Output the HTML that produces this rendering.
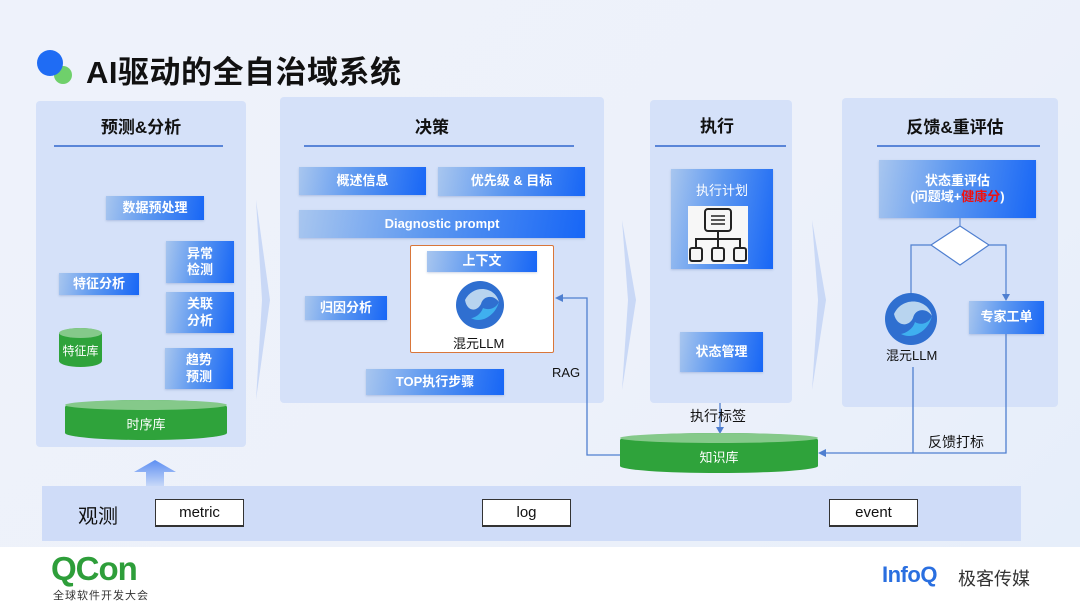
<!DOCTYPE html>
<html><head><meta charset="utf-8"><style>
*{margin:0;padding:0;box-sizing:border-box}
body{width:1080px;height:607px;position:relative;overflow:hidden;background:#fff;font-family:"Liberation Sans","Noto Sans CJK SC",sans-serif}
.bg{position:absolute;left:0;top:0;width:1080px;height:547px;background:linear-gradient(135deg,#eef2fb 0%,#edf1fa 60%,#e6eefa 100%)}
.a{position:absolute}
.panel{position:absolute;background:#d5e1f9;border-radius:4px}
.ttl{position:absolute;font-weight:bold;font-size:17px;color:#111;text-align:center}
.ln{position:absolute;height:1.5px;background:#5a85d8}
.b{position:absolute;background:linear-gradient(100deg,#a8c6ef 0%,#5d98f0 45%,#1766f6 100%);color:#fff;font-weight:bold;font-size:13px;display:flex;align-items:center;justify-content:center;text-align:center;line-height:1.25;box-shadow:0 1px 2px rgba(60,90,160,.25)}
.cyl{position:absolute;background:#2fa33b;color:#fff;font-size:13px;display:flex;align-items:center;justify-content:center}
.cyl::before{content:"";position:absolute;left:0;right:0;top:0;height:10px;border-radius:50%;background:#85c98a}
.cyl span{position:relative;top:3px}
.tb{position:absolute;background:#fff;border:1px solid #333;border-bottom:2px solid #333;font-size:15px;display:flex;align-items:center;justify-content:center;color:#111}
.t{position:absolute;font-size:14px;color:#111;white-space:nowrap}
</style></head><body>
<div class="bg"></div>
<div class="a" style="left:37px;top:50px;width:26px;height:26px;border-radius:50%;background:#1f6cf4;z-index:2"></div>
<div class="a" style="left:54px;top:66px;width:18px;height:18px;border-radius:50%;background:#6fd06b"></div>
<div class="a" style="left:86px;top:47px;font-size:31px;font-weight:bold;color:#111;letter-spacing:0.5px">AI驱动的全自治域系统</div>

<svg class="a" style="left:0;top:0" width="1080" height="547">
<polygon points="256,200 270,300 256,400 262,300" fill="#c9d8f6"/>
<polygon points="622,220 636,300 622,390 628,300" fill="#c9d8f6"/>
<polygon points="812,220 826,300 812,390 818,300" fill="#c9d8f6"/>
</svg>

<!-- P1 -->
<div class="panel" style="left:36px;top:101px;width:210px;height:346px"></div>
<div class="ttl" style="left:36px;top:113px;width:210px">预测&amp;分析</div>
<div class="ln" style="left:54px;top:145px;width:169px"></div>
<div class="b" style="left:106px;top:196px;width:98px;height:24px">数据预处理</div>
<div class="b" style="left:59px;top:273px;width:80px;height:22px">特征分析</div>
<div class="b" style="left:166px;top:241px;width:68px;height:42px">异常<br>检测</div>
<div class="b" style="left:166px;top:292px;width:68px;height:41px">关联<br>分析</div>
<div class="b" style="left:165px;top:348px;width:68px;height:41px">趋势<br>预测</div>
<div class="cyl" style="left:59px;top:328px;width:43px;height:39px;border-radius:50%/6px;font-size:12px"><span>特征库</span></div>
<div class="cyl" style="left:65px;top:400px;width:162px;height:40px;border-radius:50%/7px"><span>时序库</span></div>
<svg class="a" style="left:130px;top:458px" width="50" height="28"><defs><linearGradient id="ua" x1="0" y1="0" x2="0" y2="1"><stop offset="0" stop-color="#5d8ff2"/><stop offset="1" stop-color="#c7d8f8"/></linearGradient></defs><polygon points="25,2 46,14 34,14 34,28 16,28 16,14 4,14" fill="url(#ua)"/></svg>

<!-- P2 -->
<div class="panel" style="left:280px;top:97px;width:324px;height:306px"></div>
<div class="ttl" style="left:280px;top:113px;width:304px">决策</div>
<div class="ln" style="left:304px;top:145px;width:270px"></div>
<div class="b" style="left:299px;top:167px;width:127px;height:28px">概述信息</div>
<div class="b" style="left:438px;top:167px;width:147px;height:29px">优先级 &amp; 目标</div>
<div class="b" style="left:299px;top:210px;width:286px;height:28px">Diagnostic prompt</div>
<div class="a" style="left:410px;top:245px;width:144px;height:108px;background:#fff;border:1.5px solid #d9763a;border-radius:2px"></div>
<div class="b" style="left:427px;top:251px;width:110px;height:21px">上下文</div>
<svg class="a" style="left:455px;top:280px" width="50" height="50"><circle cx="25" cy="25" r="24" fill="#2f6fd0"/><path d="M10,20 C18,4 40,6 44,22 C38,14 28,16 26,24 C22,32 12,32 10,20Z" fill="#b8d4ef"/><path d="M16,38 C26,44 40,36 44,22 C40,30 32,30 28,28 C26,34 20,38 16,38Z" fill="#3fb0ef"/></svg>
<div class="t" style="left:453px;top:333px;font-size:13px">混元LLM</div>
<div class="b" style="left:305px;top:296px;width:82px;height:24px">归因分析</div>
<div class="b" style="left:366px;top:369px;width:138px;height:26px">TOP执行步骤</div>
<div class="t" style="left:552px;top:365px;font-size:13px">RAG</div>

<!-- P3 -->
<div class="panel" style="left:650px;top:100px;width:142px;height:303px"></div>
<div class="ttl" style="left:650px;top:112px;width:134px">执行</div>
<div class="ln" style="left:655px;top:145px;width:131px"></div>
<div class="b" style="left:671px;top:169px;width:102px;height:100px;align-items:flex-start;padding-top:14px;font-weight:normal;font-size:13px">执行计划</div>
<svg class="a" style="left:688px;top:206px" width="60" height="58"><rect width="60" height="58" fill="#f7f7f7"/><rect x="17" y="3" width="26" height="22" rx="3" fill="none" stroke="#222" stroke-width="2"/><line x1="23" y1="10" x2="37" y2="10" stroke="#222" stroke-width="1.5"/><line x1="23" y1="14" x2="37" y2="14" stroke="#222" stroke-width="1.5"/><line x1="23" y1="18" x2="37" y2="18" stroke="#222" stroke-width="1.5"/><path d="M30,25 V33 M8,42 V33 H52 V42 M30,33 V42" fill="none" stroke="#222" stroke-width="2"/><rect x="2" y="42" width="12" height="13" rx="2" fill="none" stroke="#222" stroke-width="2"/><rect x="24" y="42" width="12" height="13" rx="2" fill="none" stroke="#222" stroke-width="2"/><rect x="46" y="42" width="12" height="13" rx="2" fill="none" stroke="#222" stroke-width="2"/></svg>
<div class="b" style="left:680px;top:332px;width:83px;height:40px">状态管理</div>

<!-- P4 -->
<div class="panel" style="left:842px;top:98px;width:216px;height:309px"></div>
<div class="ttl" style="left:842px;top:113px;width:226px">反馈&amp;重评估</div>
<div class="ln" style="left:877px;top:145px;width:163px"></div>
<div class="b" style="left:879px;top:160px;width:157px;height:58px"><div>状态重评估<br>(问题域+<span style="color:#f01010">健康分</span>)</div></div>
<svg class="a" style="left:842px;top:218px" width="216" height="240">
<polygon points="118,8 147,27 118,47 89,27" fill="#fff" stroke="#4f7fd0" stroke-width="1.2"/>
<line x1="118" y1="0" x2="118" y2="8" stroke="#4f7fd0"/>
<path d="M89,27 H69 V90" fill="none" stroke="#4f7fd0" stroke-width="1.2"/><polygon points="65,88 73,88 69,95" fill="#4f7fd0"/>
<path d="M147,27 H164 V77" fill="none" stroke="#4f7fd0" stroke-width="1.2"/><polygon points="160,76 168,76 164,83" fill="#4f7fd0"/>
</svg>
<svg class="a" style="left:884px;top:292px" width="54" height="54"><circle cx="27" cy="27" r="26" fill="#2f6fd0"/><path d="M10,22 C18,4 44,6 48,24 C42,15 31,17 29,26 C25,35 13,35 10,22Z" fill="#b8d4ef"/><path d="M17,42 C28,48 44,40 48,24 C44,33 35,33 31,30 C29,37 22,41 17,42Z" fill="#3fb0ef"/></svg>
<div class="t" style="left:886px;top:345px;font-size:13px">混元LLM</div>
<div class="b" style="left:969px;top:301px;width:75px;height:33px">专家工单</div>

<svg class="a" style="left:0;top:0" width="1080" height="547">
<g stroke="#4f7fd0" stroke-width="1.3" fill="none">
<path d="M620,455 H587 V298 H560"/>
<path d="M720,403 V430"/>
<path d="M913,367 V453 M1006,334 V453 H824"/>
</g>
<polygon points="555,298 563,294 563,302" fill="#4f7fd0"/>
<polygon points="716,427 724,427 720,434" fill="#4f7fd0"/>
<polygon points="818,453 826,449 826,457" fill="#4f7fd0"/>
</svg>
<div class="t" style="left:690px;top:406px">执行标签</div>
<div class="t" style="left:928px;top:432px">反馈打标</div>
<div class="cyl" style="left:620px;top:433px;width:198px;height:40px;border-radius:50%/7px"><span>知识库</span></div>

<div class="a" style="left:42px;top:486px;width:979px;height:55px;background:#cfdcf8"></div>
<div class="t" style="left:78px;top:500px;font-size:20px">观测</div>
<div class="tb" style="left:155px;top:499px;width:89px;height:28px">metric</div>
<div class="tb" style="left:482px;top:499px;width:89px;height:28px">log</div>
<div class="tb" style="left:829px;top:499px;width:89px;height:28px">event</div>

<div class="a" style="left:51px;top:550px;font-size:33px;font-weight:bold;color:#2e9e3a;letter-spacing:-1px">QCon</div>
<div class="a" style="left:53px;top:587px;font-size:11px;color:#333;letter-spacing:1px">全球软件开发大会</div>
<div class="a" style="left:882px;top:562px;font-size:22px;font-weight:bold;color:#2a6fe0;letter-spacing:-0.5px">InfoQ</div>
<div class="a" style="left:958px;top:565px;font-size:18px;color:#333">极客传媒</div>
</body></html>
